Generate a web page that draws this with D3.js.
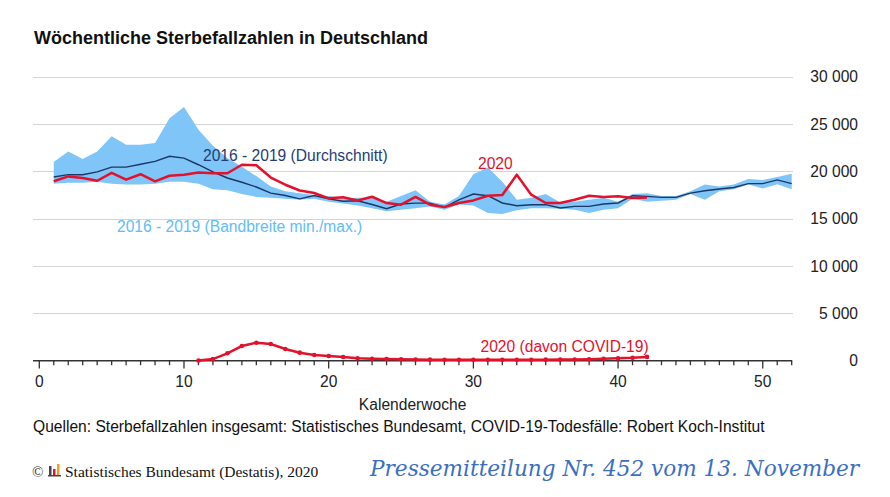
<!DOCTYPE html>
<html><head><meta charset="utf-8">
<script src="https://cdn.jsdelivr.net/npm/d3@7"></script>
<style>
body{margin:0;background:#fff;}
svg{display:block;}
</style></head>
<body><svg id="c" width="890" height="497"></svg>
<script>
const weeks = d3.range(1, 53);
const bandMax = [21000,22100,21300,22100,23700,22800,22800,23000,25600,26800,24400,22700,21400,20500,19500,18400,17900,17700,17500,17400,17100,17200,17200,16800,17400,18000,16800,16500,17400,19700,20400,18900,17000,17200,17600,16700,16800,17000,17200,16800,17600,17700,17400,17400,17900,18600,18400,18600,19200,19100,19400,19750];
const bandMin = [18700,18800,18800,18900,18700,18600,18600,18700,18900,18900,18700,18100,18000,17600,17300,17200,17100,17000,17100,16800,16600,16400,16100,15800,15950,16100,16300,15950,16500,16400,15600,15500,15900,16100,16100,16050,15950,15600,15950,16100,17100,16800,16900,17000,17600,17000,17900,18100,18600,18200,18650,18100];
const mean = [19400,19650,19650,19950,20450,20450,20750,21050,21600,21400,20700,19950,19300,18850,18350,17700,17450,17100,17450,17100,16850,16900,16500,16050,16550,16650,16650,16200,17000,17600,17430,16660,16370,16480,16480,16130,16300,16300,16550,16660,17430,17360,17250,17250,17700,17950,18130,18300,18700,18700,19100,18700];
const weeks2020 = d3.range(1, 43);
const deaths2020 = [18950,19470,19300,19010,19850,19120,19700,18950,19540,19650,19870,19800,19800,20700,20650,19350,18590,17980,17710,17150,17270,16920,17320,16650,16480,17300,16480,16230,16660,16930,17430,17500,19650,17540,16660,16660,17010,17430,17290,17360,17190,17250];
const weeksCovid = d3.range(11, 43);
const covid = [20,170,780,1550,1900,1760,1240,850,600,500,390,250,200,170,150,130,110,100,100,100,100,100,100,100,110,120,130,150,200,250,300,400];
const yTicks = [0,5000,10000,15000,20000,25000,30000];
const xTicks = [0,10,20,30,40,50];

const SANS = "'Liberation Sans', Arial, sans-serif";
const FS = 15.6;
const svg = d3.select("#c");
const x = d3.scaleLinear().domain([0,52]).range([39.3,791.7]);
const y = d3.scaleLinear().domain([0,30000]).range([360.7,76.7]);
const fmt = v => d3.format(",")(v).replace(/,/g," ");

// title
svg.append("text").attr("x",34).attr("y",44).style("font-family",SANS).style("font-size","18px").style("font-weight","bold").attr("fill","#111")
  .text("Wöchentliche Sterbefallzahlen in Deutschland");

// gridlines
svg.append("g").selectAll("line").data(yTicks.filter(d=>d>0)).join("line")
  .attr("x1",33).attr("x2",793).attr("y1",d=>Math.round(y(d))+0.5).attr("y2",d=>Math.round(y(d))+0.5)
  .attr("stroke","#d4d4d4").attr("stroke-width",1);
// y labels
svg.append("g").selectAll("text").data(yTicks).join("text")
  .attr("x",858).attr("y",d=>y(d)+5.5).attr("text-anchor","end").style("font-family",SANS).style("font-size",FS+"px").attr("fill","#222")
  .text(fmt);

// band
const band = weeks.map((w,i)=>({w,lo:bandMin[i],hi:bandMax[i]}));
svg.append("path").datum(band)
  .attr("d", d3.area().x(d=>x(d.w)).y0(d=>y(d.lo)).y1(d=>y(d.hi)))
  .attr("fill","#7fc5f8");

// mean
svg.append("path").datum(weeks.map((w,i)=>[w,mean[i]]))
  .attr("d", d3.line().x(d=>x(d[0])).y(d=>y(d[1])))
  .attr("fill","none").attr("stroke","#1b3766").attr("stroke-width",1.4);

// 2020
svg.append("path").datum(weeks2020.map((w,i)=>[w,deaths2020[i]]))
  .attr("d", d3.line().x(d=>x(d[0])).y(d=>y(d[1])))
  .attr("fill","none").attr("stroke","#e3122c").attr("stroke-width",2.5).attr("stroke-linejoin","round");

// x axis
const ax = svg.append("g");
ax.append("line").attr("x1",33).attr("x2",x(52)+0.5).attr("y1",360.7).attr("y2",360.7).attr("stroke","#333").attr("stroke-width",1.5);
ax.selectAll(".t").data(d3.range(0,53)).join("line")
  .attr("x1",d=>x(d)).attr("x2",d=>x(d)).attr("y1",360.7).attr("y2",d=>d%10===0?368.5:365.2)
  .attr("stroke","#333").attr("stroke-width",1.3);
ax.selectAll("text").data(xTicks).join("text")
  .attr("x",d=>x(d)).attr("y",387).attr("text-anchor","middle").style("font-family",SANS).style("font-size",FS+"px").attr("fill","#222").text(d=>d);
svg.append("text").attr("x",x(25.8)).attr("y",409.5).attr("text-anchor","middle").style("font-family",SANS).style("font-size",FS+"px").attr("fill","#222").text("Kalenderwoche");

// covid
const cv = weeksCovid.map((w,i)=>[w,covid[i]]);
svg.append("path").datum(cv)
  .attr("d", d3.line().x(d=>x(d[0])).y(d=>y(d[1])))
  .attr("fill","none").attr("stroke","#e3122c").attr("stroke-width",2.5);
svg.append("g").selectAll("circle").data(cv).join("circle")
  .attr("cx",d=>x(d[0])).attr("cy",d=>y(d[1])).attr("r",2.3).attr("fill","#e3122c");

// series labels
const lab = (xx,yy,c,t) => svg.append("text").attr("x",xx).attr("y",yy).style("font-family",SANS).style("font-size",FS+"px").attr("fill",c).text(t);
lab(203,161,"#1f3d73","2016 - 2019 (Durchschnitt)");
lab(478,169,"#e3122c","2020");
lab(117,231.5,"#62bdf6","2016 - 2019 (Bandbreite min./max.)");
lab(480.5,352,"#e3122c","2020 (davon COVID-19)");

// footer
svg.append("text").attr("x",33).attr("y",432).style("font-family",SANS).style("font-size",FS+"px").attr("fill","#111")
  .text("Quellen: Sterbefallzahlen insgesamt: Statistisches Bundesamt, COVID-19-Todesfälle: Robert Koch-Institut");
svg.append("text").attr("x",32).attr("y",477).style("font-family","'Liberation Serif', serif").style("font-size","15px").attr("fill","#333").text("©");
const logo = svg.append("g");
logo.append("rect").attr("x",49).attr("y",466).attr("width",2.5).attr("height",9).attr("fill","#444");
logo.append("rect").attr("x",53).attr("y",469).attr("width",2.5).attr("height",6).attr("fill","#e3122c");
logo.append("rect").attr("x",57).attr("y",464).attr("width",2.5).attr("height",11).attr("fill","#f0a020");
logo.append("rect").attr("x",48).attr("y",475).attr("width",13).attr("height",1.5).attr("fill","#444");
svg.append("text").attr("x",65).attr("y",477).style("font-family","'Liberation Serif', serif").style("font-size","15.5px").attr("fill","#111")
  .text("Statistisches Bundesamt (Destatis), 2020");
svg.append("text").attr("x",370).attr("y",476).style("font-family","'DejaVu Serif', serif").style("font-style","italic").style("font-size","21.6px").attr("fill","#3a6fc2")
  .text("Pressemitteilung Nr. 452 vom 13. November");
</script></body></html>
